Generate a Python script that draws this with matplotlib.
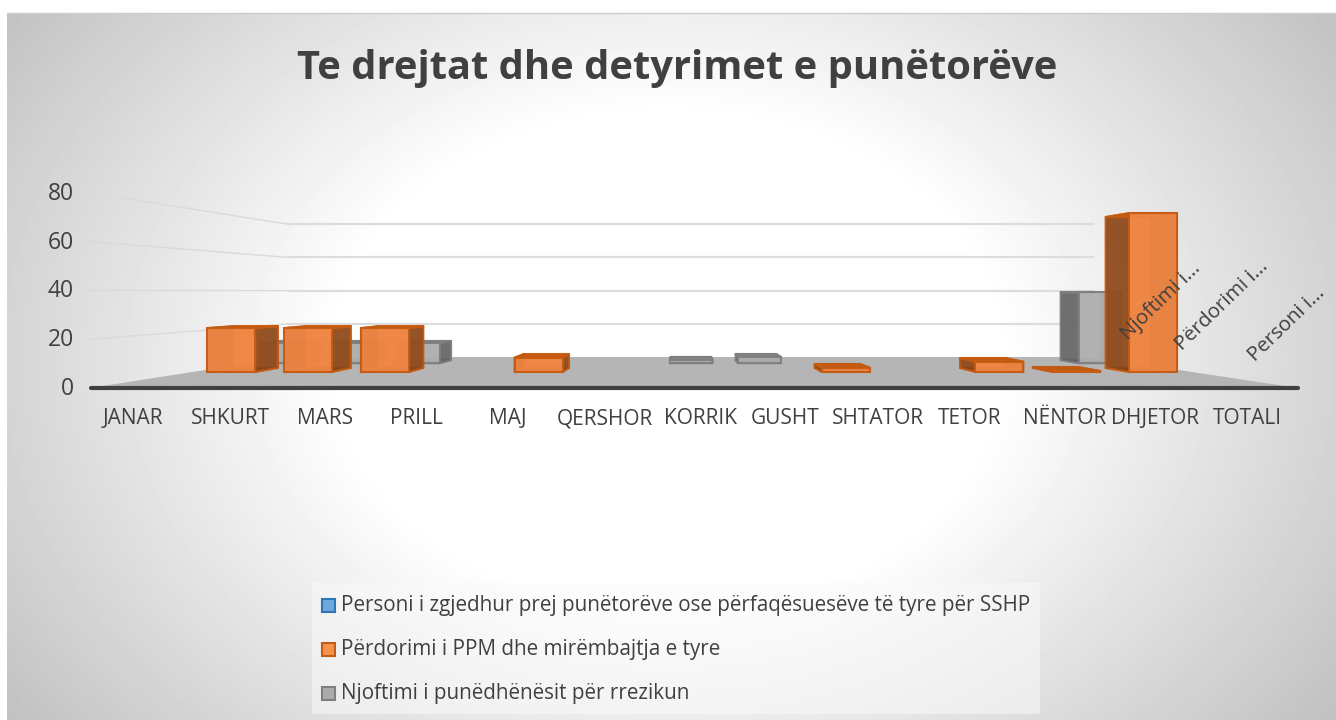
#pseudo 3d column chart, Te drejtat dhe detyrimet e punetoreve
import numpy as np
import matplotlib
matplotlib.use('Agg')
import matplotlib.pyplot as plt
from matplotlib.patches import Polygon, Rectangle

months=['JANAR','SHKURT','MARS','PRILL','MAJ','QERSHOR','KORRIK','GUSHT','SHTATOR','TETOR','NËNTOR','DHJETOR','TOTALI']
y_ticks=[0,20,40,60,80]
depth_labels=['Njoftimi i...','Përdorimi i...','Personi i...']
legend_labels=['Personi i zgjedhur prej punëtorëve ose përfaqësuesëve të tyre për SSHP',
               'Përdorimi i PPM dhe mirëmbajtja e tyre',
               'Njoftimi i punëdhënësit për rrezikun']
orange_vals=[21.5,21.5,21.5,0,7,0,0,0,2,0,5,0.4,78]
gray_vals=[11,11,11,0,0,0,1.8,3.5,0,0,0,0,39]

W,H=1336,720
fig=plt.figure(figsize=(W/100,H/100),dpi=100)
ax=fig.add_axes([0,0,1,1])
ax.set_xlim(0,W)
ax.set_ylim(H,0)
ax.axis('off')

# radial background
yy,xx=np.mgrid[13:H,7:W]
r=np.sqrt(((xx-668)/600)**2+((yy-360)/450)**2)
shade=np.clip(1-(r-0.55)*0.30,0.76,1)
ax.imshow(shade,extent=[7,W,H,13],cmap='gray',vmin=0,vmax=1,aspect='auto',zorder=0)
ax.set_xlim(0,W)
ax.set_ylim(H,0)
ax.plot([7,W],[13,13],color='#cccccc',lw=1,zorder=1)

# view of the chart box: front plane, back plane
FL,FR,BL,BR=90,1298,288,1093
F0,B0=388,357
FS,BS=2.44,1.66

def proj(u,v,t):
    # u category position, v value, t depth 0 front 1 back
    left=FL+(BL-FL)*t
    right=FR+(BR-FR)*t
    x=left+(right-left)*u/len(months)
    y=F0+(B0-F0)*t-v*(FS+(BS-FS)*t)
    return x,y

# floor
ax.add_patch(Polygon([proj(0,0,0),proj(0,0,1),proj(13,0,1),proj(13,0,0)],fc='#b5b5b5',ec='none',zorder=2))
# gridlines
for v in y_ticks[1:]:
    p0=proj(0,v,0)
    p1=proj(0,v,1)
    p2=proj(13,v,1)
    ax.plot([p0[0],p1[0]],[p0[1],p1[1]],color='#dadada',lw=1,zorder=2)
    ax.plot([p1[0],p2[0]],[p1[1],p2[1]],color='#dcdcdc',lw=1.6,zorder=2)
ax.plot([proj(0,0,0)[0]+1,proj(13,0,0)[0]],[F0,F0],color='#404040',lw=3,solid_capstyle='round',zorder=2)

def bar(i,val,t0,t1,front,side,top,edge,z):
    a,b=i+0.5-0.3125,i+0.5+0.3125
    def face(pts,c,al):
        ax.add_patch(Polygon([proj(p[0],p[1],p[2]) for p in pts],fc=c,ec=edge,lw=1.5,alpha=al,zorder=z,joinstyle='round'))
    face([(a,0,t1),(b,0,t1),(b,val,t1),(a,val,t1)],front,0.8)
    face([(a,0,t0),(b,0,t0),(b,0,t1),(a,0,t1)],side,0.7)
    face([(a,0,t0),(a,val,t0),(a,val,t1),(a,0,t1)],side,0.8)
    face([(b,0,t0),(b,val,t0),(b,val,t1),(b,0,t1)],side,0.8)
    face([(a,val,t0),(b,val,t0),(b,val,t1),(a,val,t1)],top,0.95)
    face([(a,0,t0),(b,0,t0),(b,val,t0),(a,val,t0)],front,0.92)

for i,v in enumerate(gray_vals):
    if v>0:
        bar(i,v,0.80,0.90,'#b0b0b0','#5c5c5c','#8a8a8a','#7f7f7f',3)
for i,v in enumerate(orange_vals):
    if v>0:
        bar(i,v,0.52,0.65,'#ef8644','#7d4218','#c55a11','#c55a11',4)

# axis text
for v in y_ticks:
    ax.text(74,F0+1-v*FS,str(v),ha='right',va='center',fontsize=16.5,family='Open Sans',color='#404040',zorder=6)
label_x=[133,231,325,416,508,605,700,785,878,970,1065,1155,1247]
for x,m in zip(label_x,months):
    ax.text(x,419,m,ha='center',va='center',fontsize=15,family='Open Sans',color='#404040',zorder=6)
for (x,y),s in zip([(1124,337),(1179,347),(1252,358)],depth_labels):
    ax.text(x,y,s,rotation=44,rotation_mode='anchor',ha='left',va='center',fontsize=14.7,family='Open Sans',color='#404040',zorder=6)

ax.text(677,68,'Te drejtat dhe detyrimet e punëtorëve',ha='center',va='center',fontsize=28.7,fontweight='bold',family='Open Sans',color='#404040',zorder=6)

# legend
ax.add_patch(Rectangle((312,583),728,131,fc='#fafafa',ec='none',alpha=0.5,zorder=1))
for y,s,fc,ec in zip([605,649,693],legend_labels,['#6fa8dc','#f4924f','#ababab'],['#2e75b6','#c55a11','#7f7f7f']):
    ax.add_patch(Rectangle((322,y-6),13,13,fc=fc,ec=ec,lw=1.5,zorder=6))
    ax.text(341,y+1,s,ha='left',va='center',fontsize=14.9,family='Open Sans',color='#404040',zorder=6)

fig.savefig('out.png',dpi=100)
